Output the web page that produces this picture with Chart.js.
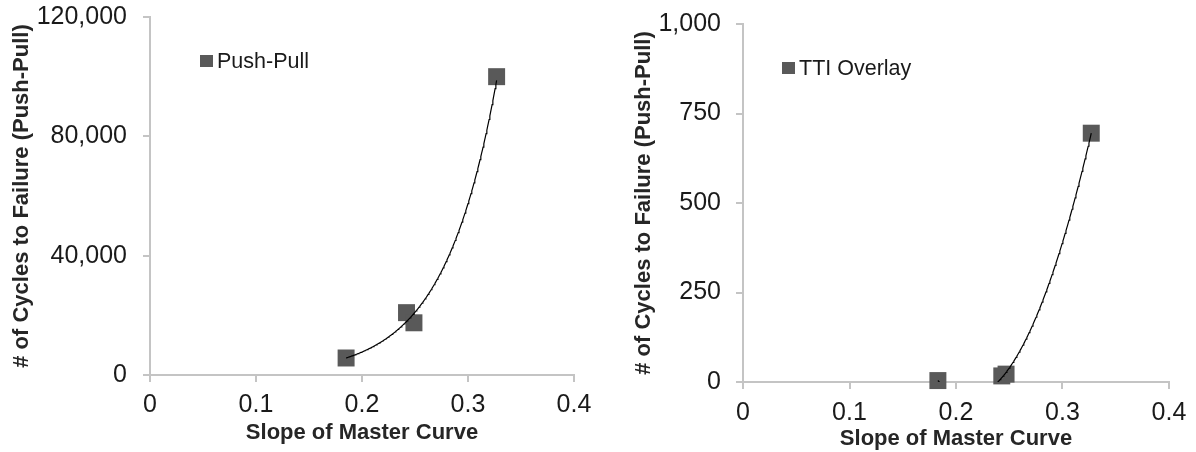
<!DOCTYPE html>
<html>
<head>
<meta charset="utf-8">
<script src="https://cdn.jsdelivr.net/npm/chart.js@4/dist/chart.umd.min.js"></script>
<style>
  body { margin: 0; background: #fff; }
  .box { position: absolute; top: 0; width: 598px; height: 452px; }
  #left { left: 0; }
  #right { left: 598px; }
</style>
</head>
<body>
<div class="box" id="left"><canvas id="c1"></canvas></div>
<div class="box" id="right"><canvas id="c2"></canvas></div>
<script>
// data
var slopePP = [0.185, 0.242, 0.249, 0.327];
var cyclesPP = [5700, 20900, 17500, 100000];
var slopeTTI = [0.183, 0.243, 0.247, 0.327];
var cyclesTTI = [4, 17, 22, 695];
var xTicks = [0, 0.1, 0.2, 0.3, 0.4];
var yTicksPP = [0, 40000, 80000, 120000];
var yTicksTTI = [0, 250, 500, 750, 1000];

var gray = '#595959';
var axisCol = '#c4c4c4';
var fontFam = '"Liberation Sans", Arial, sans-serif';

function sampleRange(xs, fn){
	var lo = Math.min.apply(null, xs), hi = Math.max.apply(null, xs);
	var pts = [];
	for(var k = 0; k<=200; k++){
		var x = lo + (hi-lo)*k/200;
		pts.push({ x: x, y: fn(x) });
	}
	return pts;
}

// exponential trendline: least squares on ln(y), as a spreadsheet does
function expTrend(xs, ys){
	var n = xs.length, mx = 0, my = 0;
	for(var i = 0; i<n; i++){ mx += xs[i]; my += Math.log(ys[i]); }
	mx /= n; my /= n;
	var sxy = 0, sxx = 0;
	for(var i = 0; i<n; i++){
		sxy += (xs[i]-mx) * (Math.log(ys[i])-my);
		sxx += (xs[i]-mx) * (xs[i]-mx);
	}
	var b = sxy / sxx, a = my - b*mx;
	return sampleRange(xs, function(x){ return Math.exp(a + b*x); });
}

// 2nd order polynomial trendline (least squares), clipped by the plot area
function polyTrend(xs, ys){
	var S = [0,0,0,0,0], T = [0,0,0];
	for(var i = 0; i<xs.length; i++){
		for(var p = 0; p<5; p++) S[p] += Math.pow(xs[i], p);
		for(var q = 0; q<3; q++) T[q] += ys[i] * Math.pow(xs[i], q);
	}
	var m = [[S[0],S[1],S[2],T[0]],[S[1],S[2],S[3],T[1]],[S[2],S[3],S[4],T[2]]];
	for(var c = 0; c<3; c++){
		for(var r = c+1; r<3; r++){
			var f = m[r][c] / m[c][c];
			for(var k = c; k<4; k++) m[r][k] -= f * m[c][k];
		}
	}
	var co = [0,0,0];
	for(var r = 2; r>=0; r--){
		var s = m[r][3];
		for(var k = r+1; k<3; k++) s -= m[r][k] * co[k];
		co[r] = s / m[r][r];
	}
	return sampleRange(xs, function(x){ return co[0] + co[1]*x + co[2]*x*x; });
}

function toPoints(xs, ys){
	return xs.map(function(x, i){ return { x: x, y: ys[i] }; });
}

var insetLegend = {
	id: 'insetLegend',
	afterDraw: function(chart, args, opts){
		var ctx = chart.ctx;
		ctx.save();
		ctx.fillStyle = gray;
		ctx.fillRect(opts.x, opts.y - 6, 13, 12);
		ctx.fillStyle = '#1a1a1a';
		ctx.font = '21.5px ' + fontFam;
		ctx.textBaseline = 'middle';
		ctx.fillText(opts.text, opts.x + 17, opts.y + 1);
		ctx.restore();
	}
};

function makeChart(id, xs, ys, trend, yTicks, label, geo){
	var yMax = yTicks[yTicks.length-1];
	new Chart(document.getElementById(id), {
		type: 'scatter',
		data: {
			datasets: [
				{
					label: 'trend',
					data: trend,
					showLine: true,
					borderColor: '#000',
					borderWidth: 1.2,
					pointRadius: 0,
					clip: 0,
					order: 0
				},
				{
					label: label,
					data: toPoints(xs, ys),
					pointStyle: 'rect',
					pointRadius: 12,
					pointHoverRadius: 12,
					backgroundColor: gray,
					borderColor: gray,
					borderWidth: 0,
					clip: false,
					order: 1
				}
			]
		},
		options: {
			responsive: true,
			maintainAspectRatio: false,
			animation: false,
			layout: { padding: { top: geo.top, right: geo.right, left: 0, bottom: 0 } },
			plugins: {
				legend: { display: false },
				tooltip: { enabled: false },
				insetLegend: { x: geo.legX, y: geo.legY, text: label }
			},
			scales: {
				x: {
					type: 'linear',
					min: xTicks[0],
					max: xTicks[xTicks.length-1],
					afterBuildTicks: function(s){ s.ticks = xTicks.map(function(v){ return { value: v }; }); },
					afterFit: function(s){ s.height = geo.xH; s.paddingLeft = 0; s.paddingRight = 0; },
					grid: { drawOnChartArea: false, drawTicks: true, tickLength: 7, color: axisCol, lineWidth: 2 },
					border: { color: axisCol, width: 2 },
					ticks: {
						color: '#1a1a1a', padding: geo.xTickPad,
						font: { family: fontFam, size: 25 },
						callback: function(v){ return String(v); }
					},
					title: {
						display: true, text: 'Slope of Master Curve', color: '#262626',
						font: { family: fontFam, size: 22, weight: 'bold' },
						padding: { top: 0, bottom: geo.xTitlePad }
					}
				},
				y: {
					min: 0,
					max: yMax,
					afterBuildTicks: function(s){ s.ticks = yTicks.map(function(v){ return { value: v }; }); },
					afterFit: function(s){ s.width = geo.yW; s.paddingTop = 0; s.paddingBottom = 0; },
					grid: { drawOnChartArea: false, drawTicks: true, tickLength: 7, color: axisCol, lineWidth: 2 },
					border: { color: axisCol, width: 2 },
					ticks: {
						color: '#1a1a1a', padding: geo.yTickPad,
						font: { family: fontFam, size: 25 },
						callback: function(v){ return v.toLocaleString('en-US'); }
					},
					title: {
						display: true, text: '# of Cycles to Failure (Push-Pull)', color: '#262626',
						font: { family: fontFam, size: 22, weight: 'bold' },
						padding: { top: geo.yTitlePad, bottom: 0 }
					}
				}
			}
		},
		plugins: [insetLegend]
	});
}

makeChart('c1', slopePP, cyclesPP, expTrend(slopePP, cyclesPP), yTicksPP, 'Push-Pull',
	{ top: 17, right: 24, yW: 150, xH: 77, xTickPad: 8, xTitlePad: 6, yTickPad: 16, yTitlePad: 9, legX: 200, legY: 61 });
makeChart('c2', slopeTTI, cyclesTTI, polyTrend(slopeTTI, cyclesTTI), yTicksTTI, 'TTI Overlay',
	{ top: 24, right: 27, yW: 145, xH: 70, xTickPad: 9, xTitlePad: 0, yTickPad: 15, yTitlePad: 33, legX: 184, legY: 68 });
</script>
</body>
</html>
